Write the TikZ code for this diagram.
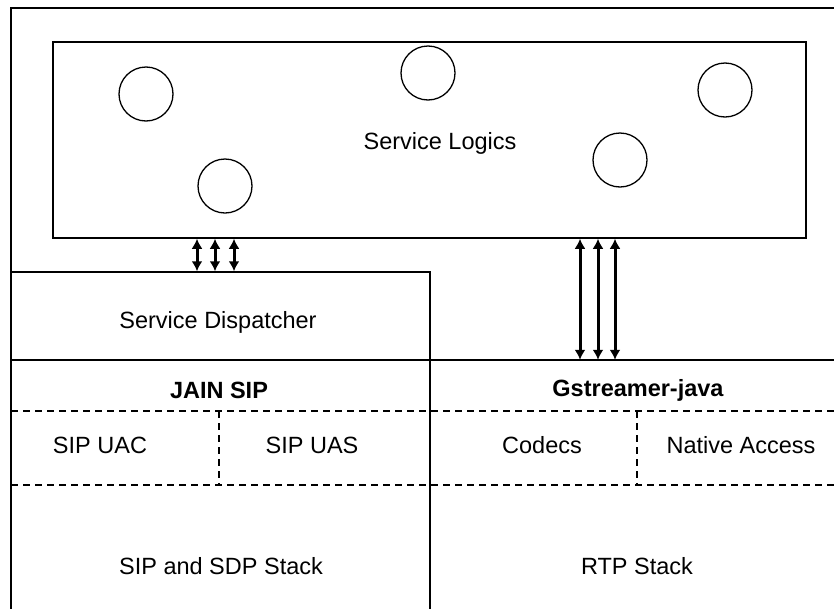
\documentclass[tikz,border=0pt]{standalone}
\usepackage{fontspec}
\setmainfont{Liberation Sans}
\usetikzlibrary{arrows.meta}
\begin{document}
\begin{tikzpicture}[x=1pt,y=-1pt,
  lw/.style={line width=1.5pt},
  dashln/.style={line width=1.5pt,dash pattern=on 7pt off 5pt},
  lbl/.style={font=\fontsize{23.5}{27}\selectfont,inner sep=0pt},
  blbl/.style={font=\fontsize{23.5}{27}\selectfont\bfseries,inner sep=0pt},
  logic/.style={circle,draw,line width=1.3pt,minimum size=54pt,inner sep=0pt},
  dar/.style={line width=3pt,{Latex[length=10pt,width=11pt]}-{Latex[length=10pt,width=11pt]}}]
\useasboundingbox (0,0) rectangle (834,608);
\clip (0,0) rectangle (834,608);
\fill[white] (0,0) rectangle (834,608);
% outer frame
\draw[lw] (11,620) -- (11,8) -- (850,8);
% service logics
\node[draw,lw,minimum width=753pt,minimum height=196pt,inner sep=0pt] (logics) at (429.5,140) {};
\node[lbl] (sltext) at (440,143) {Service Logics};
\node[logic] (c1) at (146,94) {};
\node[logic] (c2) at (428,73) {};
\node[logic] (c3) at (725,90) {};
\node[logic] (c4) at (225,186) {};
\node[logic] (c5) at (620,160) {};
% service dispatcher
\node[draw,lw,minimum width=419pt,minimum height=88pt,inner sep=0pt] (disp) at (220.5,316) {};
\node[lbl] (disptext) at (218,322) {Service Dispatcher};
% gstreamer header region
\node[minimum width=404pt,minimum height=51pt,inner sep=0pt] (gst) at (632,385.5) {};
% lines
\draw[lw] (11,360) -- (850,360);
\draw[lw] (430,360) -- (430,620);
\draw[dashln] (11,411) -- (850,411);
\draw[dashln] (11,485) -- (850,485);
\draw[dashln] (219,411) -- (219,485);
\draw[dashln] (637,411) -- (637,485);
% texts
\node[blbl] (jain) at (219,390) {JAIN SIP};
\node[blbl] (gsttext) at (638,390) {Gstreamer-java};
\node[lbl] (uac) at (100,445) {SIP UAC};
\node[lbl] (uas) at (312,445) {SIP UAS};
\node[lbl] (codecs) at (542,445) {Codecs};
\node[lbl] (native) at (741,445) {Native Access};
\node[lbl] (sdp) at (221,566) {SIP and SDP Stack};
\node[lbl] (rtp) at (637,566) {RTP Stack};
% arrows
\foreach \dx in {-23.5,-5.5,13.5}
  \draw[dar] ([xshift=\dx pt]disp.north) -- ([xshift=\dx pt]disp.north |- logics.south);
\foreach \dx in {-52,-34,-17}
  \draw[dar] ([xshift=\dx pt]gst.north) -- ([xshift=\dx pt]gst.north |- logics.south);
\end{tikzpicture}
\end{document}
